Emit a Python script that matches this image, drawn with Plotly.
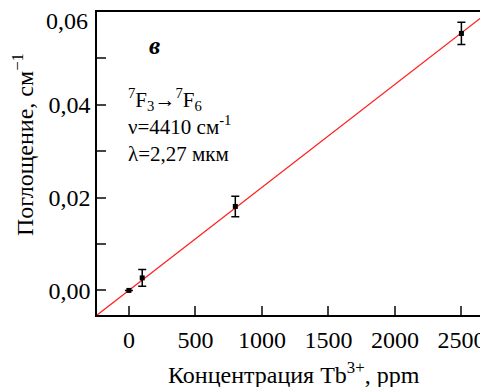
import plotly.graph_objects as go

conc = [0, 100, 800, 2500]
absorb = [0.0, 0.0027, 0.0181, 0.0554]
err = [0.0, 0.0018, 0.0022, 0.0024]
fit_x = [-240, 2700]
slope = 2.22e-5
fit_y = [slope * v for v in fit_x]
x_ticks = [0, 500, 1000, 1500, 2000, 2500]
y_ticks = [0.0, 0.02, 0.04, 0.06]
y_labels = ["0,00", "0,02", "0,04", ""]
y_top_label = "0,06"

FONT = "Liberation Serif"

fig = go.Figure()
fig.add_trace(go.Scatter(x=fit_x, y=fit_y, mode="lines",
                         line=dict(color="#ff2020", width=1.2), showlegend=False))
fig.add_trace(go.Scatter(x=conc, y=absorb, mode="markers",
                         marker=dict(symbol="square", size=5, color="black"),
                         error_y=dict(type="data", array=err, color="black",
                                      thickness=1.5, width=4),
                         showlegend=False))

# top tick label is shifted down in the reference (it would overflow the page)
fig.add_annotation(x=0, y=y_ticks[-1], xref="paper", yref="y", xanchor="right",
                   yanchor="middle", xshift=-7, yshift=-9, text=y_top_label,
                   showarrow=False, font=dict(family=FONT, size=24, color="black"))
fig.add_annotation(x=0.148, y=0.89, xref="paper", yref="paper", xanchor="center",
                   yanchor="middle", text="<b><i>в</i></b>",
                   showarrow=False, font=dict(family=FONT, size=25, color="black"))
fig.add_annotation(x=0.075, y=0.765, xref="paper", yref="paper", xanchor="left",
                   yanchor="top", align="left",
                   text="<sup>7</sup>F<sub>3</sub>→<sup>7</sup>F<sub>6</sub><br>"
                        "ν=4410 см<sup>-1</sup><br>λ=2,27 мкм",
                   showarrow=False, font=dict(family=FONT, size=21, color="black"))
# axis titles as annotations for exact placement
fig.add_annotation(x=-0.189, y=0.561, xref="paper", yref="paper", textangle=-90,
                   xanchor="center", yanchor="middle",
                   text="Поглощение, см<sup>−1</sup>", showarrow=False,
                   font=dict(family=FONT, size=24, color="black"))
fig.add_annotation(x=0.503, y=-0.19, xref="paper", yref="paper",
                   xanchor="center", yanchor="middle",
                   text="Концентрация Tb<sup>3+</sup>, ppm", showarrow=False,
                   font=dict(family=FONT, size=24, color="black"))

# The page body has an 8px margin, so the figure is drawn 8px smaller and
# shifted; margins are compensated accordingly.
fig.update_layout(
    width=480, height=379,
    margin=dict(l=89, r=0, t=4, b=72),
    paper_bgcolor="white", plot_bgcolor="white",
    font=dict(family=FONT, size=20, color="black"),
    xaxis=dict(range=[-240, 2700], tickvals=x_ticks, ticks="inside", ticklen=9,
               tickwidth=1.5, showline=True, linecolor="black", linewidth=1.5,
               mirror=True, showgrid=False, zeroline=False, automargin=False,
               ticklabelstandoff=2,
               tickfont=dict(family=FONT, size=24)),
    yaxis=dict(range=[-0.0053, 0.06002], tickvals=y_ticks, ticktext=y_labels,
               ticks="inside", ticklen=9, tickwidth=1.5,
               minor=dict(dtick=0.01, tick0=0, ticks="inside", ticklen=9, tickwidth=1.5),
               showline=True, linecolor="black", linewidth=1.5, showgrid=False,
               zeroline=False, automargin=False, tickfont=dict(family=FONT, size=24)),
)

fig.write_html("out.html")
